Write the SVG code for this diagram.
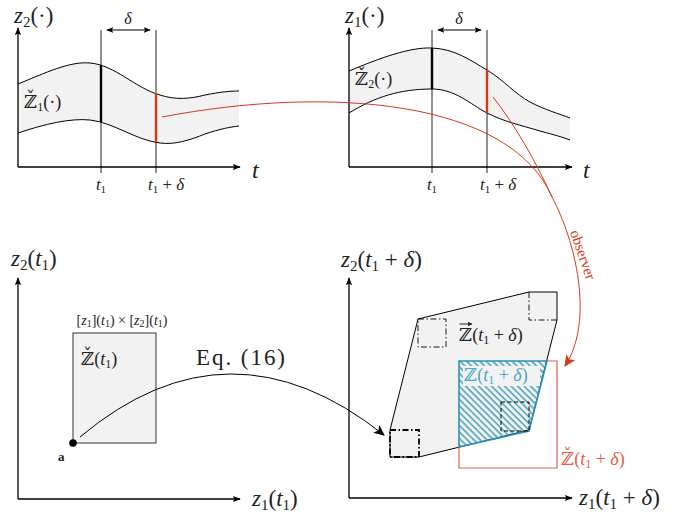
<svg xmlns="http://www.w3.org/2000/svg" width="699" height="514" viewBox="0 0 699 514">
<defs>
<marker id="ax" viewBox="0 0 10 10" refX="9" refY="5" markerWidth="8" markerHeight="8" markerUnits="userSpaceOnUse" orient="auto">
<path d="M0,1 L10,5 L0,9 L2,5 Z" fill="#000"/>
</marker>
<marker id="sm" viewBox="0 0 10 10" refX="9" refY="5" markerWidth="7" markerHeight="7" markerUnits="userSpaceOnUse" orient="auto-start-reverse">
<path d="M0,1 L10,5 L0,9 L2,5 Z" fill="#000"/>
</marker>
<marker id="tiny" viewBox="0 0 10 10" refX="9" refY="5" markerWidth="5" markerHeight="5" markerUnits="userSpaceOnUse" orient="auto">
<path d="M0,0 L10,5 L0,10 L2,5 Z" fill="#222"/>
</marker>
<marker id="bk" viewBox="0 0 10 10" refX="9" refY="5" markerWidth="11" markerHeight="11" markerUnits="userSpaceOnUse" orient="auto">
<path d="M0,0.5 L10,5 L0,9.5 L2.5,5 Z" fill="#000"/>
</marker>
<marker id="rd" viewBox="0 0 10 10" refX="9" refY="5" markerWidth="12" markerHeight="12" markerUnits="userSpaceOnUse" orient="auto">
<path d="M0,0.5 L10,5 L0,9.5 L2.5,5 Z" fill="#d33a1a"/>
</marker>
<pattern id="hatch" patternUnits="userSpaceOnUse" width="4.6" height="8" patternTransform="rotate(-45)">
<line x1="1" y1="0" x2="1" y2="8" stroke="#2b93b7" stroke-width="1.3"/>
</pattern>
</defs>
<style>
.ax{stroke:#000;stroke-width:1.3;fill:none;marker-end:url(#ax)}
.ln{stroke:#222;stroke-width:1;fill:none}
.band{fill:#f2f2f2;stroke:none}
.cv{stroke:#000;stroke-width:1;fill:none}
.red{stroke:#d33a1a;stroke-width:1;fill:none}
text{font-family:"Liberation Serif","DejaVu Serif",serif;fill:#222}
.it{font-style:italic}
.bb{font-family:"DejaVu Serif",serif}
</style>

<g id="panel-z2">
<path class="band" d="M18,84 C45,73 70,61 90,63 C115,65 135,88 160,95 C175,100 190,99 205,95 C220,92 230,91 239,91 L239,126 C230,127 220,129 205,134 C190,140 175,145 160,143 C135,140 115,123 90,120 C70,118 45,124 18,133 Z"/>
<line class="ln" x1="101" y1="30" x2="101" y2="173"/>
<line class="ln" x1="156" y1="30" x2="156" y2="173"/>
<path class="cv" d="M18,84 C45,73 70,61 90,63 C115,65 135,88 160,95 C175,100 190,99 205,95 C220,92 230,91 239,91"/>
<path class="cv" d="M18,133 C45,124 70,118 90,120 C115,123 135,140 160,143 C175,145 190,140 205,134 C220,129 230,127 239,126"/>
<line x1="101" y1="65" x2="101" y2="122" stroke="#000" stroke-width="2.4"/>
<line x1="156" y1="93" x2="156" y2="142" stroke="#d33a1a" stroke-width="2.4"/>
<line x1="107" y1="30" x2="150" y2="30" stroke="#000" stroke-width="1" marker-start="url(#sm)" marker-end="url(#sm)"/>
<line class="ax" x1="18" y1="167" x2="18" y2="28"/>
<line class="ax" x1="18" y1="167" x2="240" y2="167"/>
<text x="14" y="23" font-size="23"><tspan class="it">z</tspan><tspan font-size="15" dy="4">2</tspan><tspan dy="-4">(·)</tspan></text>
<text x="128" y="24" font-size="16" class="it" text-anchor="middle">δ</text>
<text x="252" y="178" font-size="24" class="it">t</text>
<text x="101" y="190" font-size="17" text-anchor="middle"><tspan class="it">t</tspan><tspan font-size="11" dy="3">1</tspan></text>
<text x="148" y="190" font-size="17"><tspan class="it">t</tspan><tspan font-size="11" dy="3">1</tspan><tspan dy="-3"> + </tspan><tspan class="it">δ</tspan></text>
<text x="24" y="108" font-size="18"><tspan class="bb">ℤ̌</tspan><tspan font-size="12" dy="3">1</tspan><tspan dy="-3">(·)</tspan></text>
</g>

<g id="panel-z1">
<path class="band" d="M349,71 C380,58 410,47 432,48 C455,49 470,60 487,70 C505,81 515,94 530,102 C545,110 560,114 570,118 L570,140 C562,137 555,135 540,131 C520,125 505,122 487,113 C470,104 455,89 432,89 C400,89 375,97 349,113 Z"/>
<line class="ln" x1="432" y1="30" x2="432" y2="173"/>
<line class="ln" x1="487" y1="30" x2="487" y2="173"/>
<path class="cv" d="M349,71 C380,58 410,47 432,48 C455,49 470,60 487,70 C505,81 515,94 530,102 C545,110 560,114 570,118"/>
<path class="cv" d="M349,113 C375,97 400,89 432,89 C455,89 470,104 487,113 C505,122 520,125 540,131 C555,135 562,137 570,140"/>
<line x1="432" y1="48" x2="432" y2="89" stroke="#000" stroke-width="2.4"/>
<line x1="487" y1="70" x2="487" y2="113" stroke="#d33a1a" stroke-width="2.4"/>
<line x1="438" y1="30" x2="481" y2="30" stroke="#000" stroke-width="1" marker-start="url(#sm)" marker-end="url(#sm)"/>
<line class="ax" x1="349" y1="167" x2="349" y2="28"/>
<line class="ax" x1="349" y1="167" x2="572" y2="167"/>
<text x="345" y="23" font-size="23"><tspan class="it">z</tspan><tspan font-size="15" dy="4">1</tspan><tspan dy="-4">(·)</tspan></text>
<text x="459" y="24" font-size="16" class="it" text-anchor="middle">δ</text>
<text x="583" y="178" font-size="24" class="it">t</text>
<text x="432" y="190" font-size="17" text-anchor="middle"><tspan class="it">t</tspan><tspan font-size="11" dy="3">1</tspan></text>
<text x="480" y="190" font-size="17"><tspan class="it">t</tspan><tspan font-size="11" dy="3">1</tspan><tspan dy="-3"> + </tspan><tspan class="it">δ</tspan></text>
<text x="355" y="85" font-size="18"><tspan class="bb">ℤ̌</tspan><tspan font-size="12" dy="3">2</tspan><tspan dy="-3">(·)</tspan></text>
</g>

<g id="panel-t1">
<rect x="73" y="333" width="83" height="110" fill="#f2f2f2" stroke="#333" stroke-width="1"/>
<line class="ax" x1="18" y1="499" x2="18" y2="278"/>
<line class="ax" x1="18" y1="499" x2="240" y2="499"/>
<text x="11" y="266" font-size="23"><tspan class="it">z</tspan><tspan font-size="15" dy="4">2</tspan><tspan dy="-4">(</tspan><tspan class="it">t</tspan><tspan font-size="15" dy="4">1</tspan><tspan dy="-4">)</tspan></text>
<text x="252" y="506" font-size="23"><tspan class="it">z</tspan><tspan font-size="15" dy="4">1</tspan><tspan dy="-4">(</tspan><tspan class="it">t</tspan><tspan font-size="15" dy="4">1</tspan><tspan dy="-4">)</tspan></text>
<text x="122" y="325" font-size="14" text-anchor="middle">[<tspan class="it">z</tspan><tspan font-size="10" dy="2">1</tspan><tspan dy="-2">](</tspan><tspan class="it">t</tspan><tspan font-size="10" dy="2">1</tspan><tspan dy="-2">) × [</tspan><tspan class="it">z</tspan><tspan font-size="10" dy="2">2</tspan><tspan dy="-2">](</tspan><tspan class="it">t</tspan><tspan font-size="10" dy="2">1</tspan><tspan dy="-2">)</tspan></text>
<text x="81" y="365" font-size="18"><tspan class="bb">ℤ̌</tspan>(<tspan class="it">t</tspan><tspan font-size="12" dy="3">1</tspan><tspan dy="-3">)</tspan></text>
<circle cx="73" cy="443" r="3.8" fill="#000"/>
<text x="58" y="461" font-size="13" font-weight="bold">a</text>
</g>

<g id="panel-t1d">
<polygon points="390,430 418,319 529,292 557,292 557,320 529,430 419,457 390,457" fill="#f2f2f2" stroke="#000" stroke-width="1"/>
<rect x="418" y="319" width="28" height="28" fill="none" stroke="#000" stroke-width="0.9" stroke-dasharray="6,2.5,1.5,2.5"/>
<polyline points="529,292 529,320 557,320" fill="none" stroke="#000" stroke-width="0.9" stroke-dasharray="6,2.5,1.5,2.5"/>
<polygon points="459,361 547,361 529,431 459,447" fill="url(#hatch)" stroke="#2b93b7" stroke-width="1.6"/>
<rect x="463" y="366" width="77" height="20" fill="#f2f2f2"/>
<rect x="501" y="402" width="28" height="29" fill="none" stroke="#000" stroke-width="1" stroke-dasharray="4,2.5"/>
<rect x="390" y="430" width="29" height="27" fill="none" stroke="#000" stroke-width="1.8" stroke-dasharray="6,2.5,1.5,2.5"/>
<polyline points="459,447 459,468 557,468 557,361 547,361" fill="none" stroke="#e0604a" stroke-width="1.2"/>
<line class="ax" x1="349" y1="498" x2="349" y2="278"/>
<line class="ax" x1="349" y1="498" x2="572" y2="498"/>
<text x="341" y="267" font-size="23"><tspan class="it">z</tspan><tspan font-size="15" dy="4">2</tspan><tspan dy="-4">(</tspan><tspan class="it">t</tspan><tspan font-size="15" dy="4">1</tspan><tspan dy="-4"> + </tspan><tspan class="it">δ</tspan>)</text>
<text x="579" y="505" font-size="23"><tspan class="it">z</tspan><tspan font-size="15" dy="4">1</tspan><tspan dy="-4">(</tspan><tspan class="it">t</tspan><tspan font-size="15" dy="4">1</tspan><tspan dy="-4"> + </tspan><tspan class="it">δ</tspan>)</text>
<text x="459" y="341" font-size="18"><tspan class="bb">ℤ</tspan>(<tspan class="it">t</tspan><tspan font-size="12" dy="3">1</tspan><tspan dy="-3"> + </tspan><tspan class="it">δ</tspan>)</text>
<line x1="459.5" y1="324" x2="472" y2="324" stroke="#222" stroke-width="1" marker-end="url(#tiny)"/>
<text x="464" y="381" font-size="18" style="fill:#4aa8cc"><tspan class="bb">ℤ</tspan>(<tspan class="it">t</tspan><tspan font-size="12" dy="3">1</tspan><tspan dy="-3"> + </tspan><tspan class="it">δ</tspan>)</text>
<text x="561" y="465" font-size="18" style="fill:#e0604a"><tspan class="bb">ℤ̌</tspan>(<tspan class="it">t</tspan><tspan font-size="12" dy="3">1</tspan><tspan dy="-3"> + </tspan><tspan class="it">δ</tspan>)</text>
</g>

<g id="connectors">
<path d="M80,437 Q229,312 384,435" fill="none" stroke="#000" stroke-width="1" marker-end="url(#bk)"/>
<text x="196" y="365" font-size="23" textLength="89" lengthAdjust="spacing">Eq. (16)</text>
<path class="red" d="M162,117 C330,85 510,100 552,197 C575,240 595,320 565,366" marker-end="url(#rd)"/>
<path class="red" d="M493,97 C515,125 535,160 552,197"/>
<text transform="translate(582,255) rotate(71)" font-size="15" text-anchor="middle" dy="4" style="fill:#d33a1a">observer</text>
</g>
</svg>
